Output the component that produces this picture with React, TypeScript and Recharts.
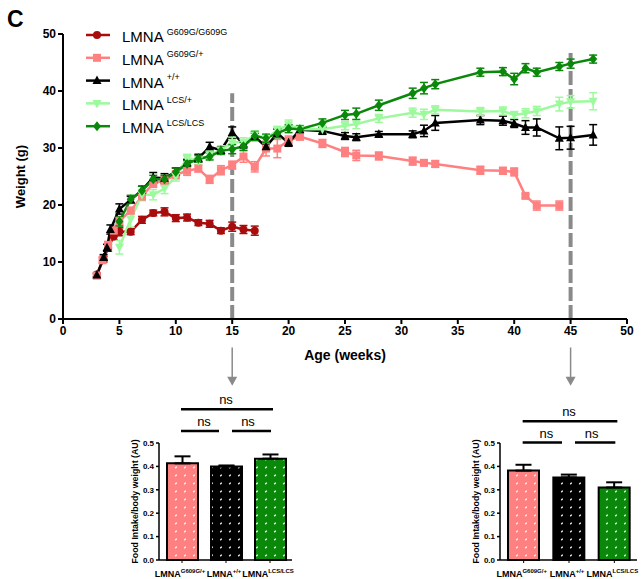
import React from 'react';
import { LineChart, Line, XAxis, YAxis, ErrorBar, ReferenceLine, BarChart, Bar, Cell } from 'recharts';

const FONT = '"Liberation Sans", Arial, Helvetica, sans-serif';

// colours per genotype
const RED = '#a80c0c';
const PINK = '#ff8080';
const BLACK = '#000000';
const LIGHT_GREEN = '#9cfa9c';
const GREEN = '#0a880a';
const GREY = '#8a8a8a';

// body weight curves (g), mean and sem
const weeksG609G = [3, 3.6, 4, 4.5, 5, 6, 7, 8, 9, 10, 11, 12, 13, 14, 15, 16, 17];
const weightG609G = [7.8, 10.5, 12.5, 14.5, 15.3, 15.3, 17.4, 18.6, 18.8, 17.7, 17.8, 16.9, 16.7, 15.5, 16.2, 15.7, 15.5];
const semG609G = [0.3, 0.5, 0.6, 0.6, 0.7, 0.5, 0.6, 0.5, 0.7, 0.6, 0.6, 0.5, 0.6, 0.5, 0.8, 0.7, 0.8];

const weeksHet = [3, 3.5, 4, 4.5, 5, 6, 7, 8, 9, 10, 11, 12, 13, 14, 15, 16, 17, 18, 19, 20, 21, 23, 25, 26, 28, 31, 32, 33, 37, 39, 40, 41, 42, 44];
const weightHet = [7.6, 10.3, 13, 15.5, 17.2, 19, 21.5, 23.8, 24.3, 25.3, 26, 26.4, 24.5, 26.1, 27, 28.5, 26.7, 29.9, 29.9, 31.3, 32, 30.8, 29.3, 28.7, 28.6, 27.7, 27.4, 27.2, 26.1, 26, 25.8, 21.6, 19.9, 19.9];
const semHet = [0.3, 0.5, 0.6, 0.7, 0.8, 0.6, 0.7, 0.7, 0.8, 0.7, 0.8, 0.6, 0.7, 0.8, 0.7, 1.0, 0.9, 1.3, 1.6, 0.8, 0.6, 0.7, 0.8, 0.9, 0.7, 0.7, 0.5, 0.6, 0.7, 0.6, 0.7, 0.3, 0.8, 0.8];

const weeksWt = [3, 3.6, 3.9, 4.2, 5, 6, 7, 8, 9, 10, 11, 12, 13, 14, 15, 16, 17, 18, 19, 20, 21, 23, 25, 26, 28, 31, 32, 33, 37, 39, 40, 41, 42, 44, 45, 47];
const weightWt = [7.7, 10.8, 12.5, 15.7, 19.3, 20.9, 22.6, 24.8, 24.7, 25.8, 27.4, 28.2, 30.2, 29.6, 32.7, 30.7, 32, 30.2, 32.6, 30.9, 33.2, 33, 32.1, 31.9, 32.4, 32.4, 33, 34.4, 34.9, 34.8, 34.3, 33.6, 33.6, 31.7, 31.8, 32.3];
const semWt = [0.3, 0.5, 0.6, 0.8, 0.9, 0.6, 0.7, 0.9, 0.8, 0.7, 0.6, 0.7, 0.8, 0.6, 1.0, 0.7, 0.6, 0.6, 0.7, 0.6, 0.6, 0.6, 0.6, 0.6, 0.5, 0.6, 1.0, 1.3, 0.8, 0.8, 0.7, 1.2, 1.5, 2.0, 2.0, 1.8];

const weeksLcs = [5, 6, 7, 8, 9, 10, 11, 12, 13, 14, 15, 16, 17, 18, 19, 20, 21, 23, 25, 26, 28, 31, 32, 33, 37, 39, 40, 41, 42, 44, 45, 47];
const weightLcsHet = [12.6, 17.5, 21.8, 21.8, 22.9, 25, 28.2, 27.8, 28.8, 29.6, 31, 31, 32.3, 31.7, 33.1, 34.1, 33.3, 33.3, 33.9, 34.2, 35.2, 36.2, 35.9, 36.7, 36.4, 36.5, 35.8, 36.1, 36.5, 37.7, 38.1, 38.2];
const semLcsHet = [1.2, 1.4, 0.9, 0.9, 0.9, 0.8, 0.7, 0.8, 0.7, 0.8, 0.9, 0.8, 0.7, 0.8, 0.7, 0.8, 0.7, 0.6, 0.7, 0.8, 0.7, 0.8, 0.9, 0.7, 0.7, 0.7, 0.6, 0.8, 0.8, 1.2, 1.1, 1.5];
const weightLcsHom = [17.1, 21, 22.5, 24.5, 24.5, 25.8, 27.2, 28.1, 28.5, 29.5, 29.8, 30.3, 32.1, 31.7, 32.6, 33.4, 33.3, 34.4, 35.8, 36, 37.5, 39.6, 40.5, 41.2, 43.3, 43.4, 42.1, 44, 43.3, 44.3, 44.8, 45.6];
const semLcsHom = [0.8, 0.7, 0.8, 0.7, 0.7, 0.7, 0.6, 0.6, 0.6, 0.6, 0.8, 0.7, 0.8, 0.7, 0.8, 0.7, 0.6, 0.7, 0.8, 1.0, 0.9, 0.9, 1.0, 0.8, 0.7, 0.7, 1.0, 0.8, 0.7, 0.7, 0.8, 0.7];

const xTicks = [0, 5, 10, 15, 20, 25, 30, 35, 40, 45, 50];
const yTicks = [0, 10, 20, 30, 40, 50];

// food intake / body weight at 15 and 45 weeks
const genotypes = ['G609G/+', '+/+', 'LCS/LCS'];
const intake15 = [0.413, 0.4, 0.433];
const intakeSem15 = [0.03, 0.004, 0.018];
const intake45 = [0.382, 0.353, 0.31];
const intakeSem45 = [0.025, 0.012, 0.022];
const intakeTicks = [0, 0.1, 0.2, 0.3, 0.4, 0.5];
const barColors = [PINK, BLACK, GREEN];

const toSeries = (weeks: number[], weight: number[], sem: number[]) =>
  weeks.map((w, i) => ({ week: w, weight: weight[i], sem: sem[i] }));

const series = [
  { name: 'G609G/G609G', color: RED, kind: 'circle', data: toSeries(weeksG609G, weightG609G, semG609G) },
  { name: 'G609G/+', color: PINK, kind: 'square', data: toSeries(weeksHet, weightHet, semHet) },
  { name: '+/+', color: BLACK, kind: 'up', data: toSeries(weeksWt, weightWt, semWt) },
  { name: 'LCS/+', color: LIGHT_GREEN, kind: 'down', data: toSeries(weeksLcs, weightLcsHet, semLcsHet) },
  { name: 'LCS/LCS', color: GREEN, kind: 'diamond', data: toSeries(weeksLcs, weightLcsHom, semLcsHom) },
];

const Marker = ({ kind, cx, cy, color }: any) => {
  if (cx == null || cy == null) return null;
  switch (kind) {
    case 'circle':
      return <circle cx={cx} cy={cy} r={4} fill={color} />;
    case 'square':
      return <rect x={cx - 4} y={cy - 4} width={8} height={8} fill={color} />;
    case 'up':
      return <polygon points={`${cx},${cy - 5} ${cx - 4.5},${cy + 3.5} ${cx + 4.5},${cy + 3.5}`} fill={color} />;
    case 'down':
      return <polygon points={`${cx},${cy + 5} ${cx - 4.5},${cy - 3.5} ${cx + 4.5},${cy - 3.5}`} fill={color} />;
    default:
      return <polygon points={`${cx},${cy - 5} ${cx + 4},${cy} ${cx},${cy + 5} ${cx - 4},${cy}`} fill={color} />;
  }
};

const dotFor = (kind: string, color: string) => (props: any) =>
  <Marker key={`${kind}-${props.index}`} kind={kind} cx={props.cx} cy={props.cy} color={color} />;

const arrowShape = (p: any) => (
  <g>
    <line x1={p.x1} y1={p.y1} x2={p.x2} y2={p.y2 - 8} stroke={GREY} strokeWidth={1.5} />
    <polygon points={`${p.x2 - 5},${p.y2 - 9} ${p.x2 + 5},${p.y2 - 9} ${p.x2},${p.y2}`} fill={GREY} />
  </g>
);

const WeightChart = () => (
  <LineChart width={643} height={392} margin={{ top: 34, right: 16, bottom: 23, left: 23 }}>
    <XAxis
      type="number"
      dataKey="week"
      domain={[0, 50]}
      ticks={xTicks}
      height={50}
      axisLine={{ stroke: '#000', strokeWidth: 2 }}
      tickLine={{ stroke: '#000', strokeWidth: 2 }}
      tickSize={5}
      tick={{ fill: '#000', fontSize: 12, fontWeight: 700, fontFamily: FONT }}
      label={{
        content: ({ viewBox }: any) => (
          <text x={viewBox.x + viewBox.width / 2} y={viewBox.y + 41} textAnchor="middle"
            fontSize={14} fontWeight={700} fontFamily={FONT} fill="#000">Age (weeks)</text>
        ),
      }}
    />
    <YAxis
      type="number"
      domain={[0, 50]}
      ticks={yTicks}
      width={40}
      axisLine={{ stroke: '#000', strokeWidth: 2 }}
      tickLine={{ stroke: '#000', strokeWidth: 2 }}
      tickSize={5}
      tick={{ fill: '#000', fontSize: 12, fontWeight: 700, fontFamily: FONT }}
      label={{
        content: ({ viewBox }: any) => (
          <text transform={`translate(${viewBox.x + 2},${viewBox.y + viewBox.height / 2}) rotate(-90)`}
            textAnchor="middle" fontSize={13} fontWeight={700} fontFamily={FONT} fill="#000">Weight (g)</text>
        ),
      }}
    />
    <ReferenceLine segment={[{ x: 15, y: 0 }, { x: 15, y: 39.6 }]} stroke={GREY} strokeWidth={4} strokeDasharray="14 4" ifOverflow="visible" />
    <ReferenceLine segment={[{ x: 45, y: 0 }, { x: 45, y: 47.3 }]} stroke={GREY} strokeWidth={4} strokeDasharray="14 4" ifOverflow="visible" />
    <ReferenceLine segment={[{ x: 15, y: -5 }, { x: 15, y: -11.7 }]} ifOverflow="visible" shape={arrowShape} />
    <ReferenceLine segment={[{ x: 45, y: -5 }, { x: 45, y: -11.7 }]} ifOverflow="visible" shape={arrowShape} />
    {series.map((s) => (
      <Line
        key={s.name}
        data={s.data}
        dataKey="weight"
        stroke={s.color}
        strokeWidth={2.5}
        dot={dotFor(s.kind, s.color)}
        activeDot={false}
        isAnimationActive={false}
      >
        <ErrorBar dataKey="sem" direction="y" width={4} stroke={s.color} strokeWidth={1.5} />
      </Line>
    ))}
  </LineChart>
);

const LegendBox = () => (
  <svg width={260} height={140} style={{ position: 'absolute', left: 0, top: 0 }}>
    <text x={7} y={27} fontSize={23} fontWeight={700} fontFamily={FONT} fill="#000">C</text>
    {series.map((s, i) => {
      const cy = 35 + i * 22.8;
      return (
        <g key={s.name}>
          <line x1={86} x2={110} y1={cy} y2={cy} stroke={s.color} strokeWidth={2.5} />
          <Marker kind={s.kind} cx={97} cy={cy} color={s.color} />
          <text x={122} y={cy + 7} fontFamily={FONT} fill="#000">
            <tspan fontSize={15}>LMNA</tspan>
            <tspan fontSize={9} dx={3} dy={-7.5}>{s.name}</tspan>
          </text>
        </g>
      );
    })}
  </svg>
);

const GenotypeTick = ({ x, y, payload }: any) => (
  <text x={x - 2} y={y + 12} textAnchor="middle" fontFamily={FONT} fontWeight={700} fill="#000">
    <tspan fontSize={9}>LMNA</tspan>
    <tspan fontSize={6} dy={-4}>{payload.value}</tspan>
  </text>
);

const sigShape = (dx1: number, dx2: number) => (p: any) =>
  <line x1={p.x1 + dx1} y1={p.y1} x2={p.x2 + dx2} y2={p.y2} stroke="#000" strokeWidth={2.5} />;

const nsLabel = {
  content: ({ viewBox }: any) => (
    <text x={viewBox.x + viewBox.width / 2} y={viewBox.y - 5} textAnchor="middle" fontSize={13} fontFamily={FONT} fill="#000">ns</text>
  ),
};

const FoodIntakeChart = ({ id, left, plotWidth, values, sems, topLevel, lowLevel }: any) => {
  const data = genotypes.map((g, i) => ({ genotype: g, intake: values[i], err: [0, sems[i]] }));
  return (
    <div style={{ position: 'absolute', left, top: 375 }}>
      <BarChart width={41 + plotWidth + 6} height={204} data={data} margin={{ top: 68, right: 6, bottom: 1, left: 17 }} barSize={31}>
        <defs>
          {barColors.map((c, i) => (
            <pattern key={c} id={`${id}-dots-${i}`} width={9} height={8} patternUnits="userSpaceOnUse">
              <rect width={9} height={8} fill={c} />
              <line x1={3.3} y1={5.2} x2={4.7} y2={3.6} stroke="#fff" strokeWidth={1.3} />
            </pattern>
          ))}
        </defs>
        <XAxis
          dataKey="genotype"
          height={18}
          interval={0}
          padding={{ left: 1, right: 0 }}
          axisLine={{ stroke: '#000', strokeWidth: 1.5 }}
          tickLine={{ stroke: '#000', strokeWidth: 1 }}
          tickSize={3}
          tick={<GenotypeTick />}
        />
        <YAxis
          domain={[0, 0.5]}
          ticks={intakeTicks}
          width={24}
          tickSize={3}
          tickFormatter={(v: number) => v.toFixed(1)}
          axisLine={{ stroke: '#000', strokeWidth: 1.5 }}
          tickLine={{ stroke: '#000', strokeWidth: 1.5 }}
          tick={{ fill: '#000', fontSize: 8, fontWeight: 700, fontFamily: FONT }}
          label={{
            content: ({ viewBox }: any) => (
              <text transform={`translate(${viewBox.x + 3},${viewBox.y + viewBox.height / 2}) rotate(-90)`}
                textAnchor="middle" fontSize={8.8} fontWeight={700} fontFamily={FONT} fill="#000">Food Intake/body weight (AU)</text>
            ),
          }}
        />
        <Bar dataKey="intake" stroke="#000" strokeWidth={2} isAnimationActive={false}>
          {data.map((d, i) => <Cell key={d.genotype} fill={`url(#${id}-dots-${i})`} />)}
          <ErrorBar dataKey="err" direction="y" width={8} stroke="#000" strokeWidth={2} />
        </Bar>
        <ReferenceLine segment={[{ x: genotypes[0], y: topLevel }, { x: genotypes[2], y: topLevel }]} ifOverflow="visible" shape={sigShape(-1, 3)} label={nsLabel} />
        <ReferenceLine segment={[{ x: genotypes[0], y: lowLevel }, { x: genotypes[1], y: lowLevel }]} ifOverflow="visible" shape={sigShape(-1, -7)} label={nsLabel} />
        <ReferenceLine segment={[{ x: genotypes[1], y: lowLevel }, { x: genotypes[2], y: lowLevel }]} ifOverflow="visible" shape={sigShape(6, 1)} label={nsLabel} />
      </BarChart>
    </div>
  );
};

export default function App() {
  return (
    <div style={{ position: 'absolute', left: 0, top: 0, width: 643, height: 579, background: '#fff', fontFamily: FONT }}>
      <WeightChart />
      <LegendBox />
      <FoodIntakeChart id="wk15" left={118} plotWidth={133} values={intake15} sems={intakeSem15} topLevel={0.644} lowLevel={0.551} />
      <FoodIntakeChart id="wk45" left={459} plotWidth={137} values={intake45} sems={intakeSem45} topLevel={0.593} lowLevel={0.502} />
    </div>
  );
}
